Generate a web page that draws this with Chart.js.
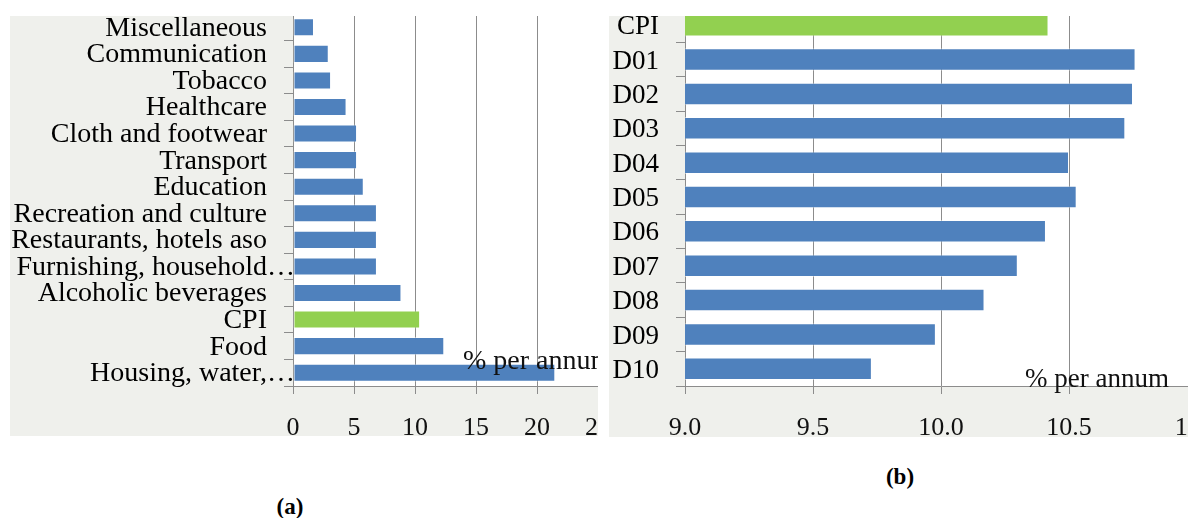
<!DOCTYPE html>
<html>
<head>
<meta charset="utf-8">
<script src="https://cdn.jsdelivr.net/npm/chart.js@4/dist/chart.umd.min.js"></script>
<style>
  html, body { margin: 0; padding: 0; background: #ffffff; }
  body { width: 1188px; height: 518px; position: relative; overflow: hidden; font-family: "Liberation Serif", serif; }
  .panel { position: absolute; overflow: hidden; background: #eff0ec; }
  .panel canvas { position: absolute; }
  .cap { position: absolute; font: bold 23px "Liberation Serif", serif; color: #000; transform: translate(-50%, -50%); }
</style>
</head>
<body>
<div class="panel" id="panelA" style="left:10px; top:16px; width:588px; height:420px;">
  <canvas id="chartA" width="660" height="460" style="left:-10px; top:-16px;"></canvas>
</div>
<div class="panel" id="panelB" style="left:609px; top:16px; width:579px; height:421px;">
  <canvas id="chartB" width="660" height="460" style="left:-9px; top:-16px;"></canvas>
</div>
<div class="cap" style="left:290px; top:507px;">(a)</div>
<div class="cap" style="left:900px; top:477px;">(b)</div>

<script>
// (a) Price growth by consumption group, % per annum
const groupLabels = [
  'Miscellaneous', 'Communication', 'Tobacco', 'Healthcare', 'Cloth and footwear',
  'Transport', 'Education', 'Recreation and culture', 'Restaurants, hotels aso',
  'Furnishing, household\u2026', 'Alcoholic beverages', 'CPI', 'Food', 'Housing, water,\u2026'
];
const groupValues = [1.72, 2.93, 3.12, 4.39, 5.25, 5.25, 5.8, 6.88, 6.88, 6.88, 8.89, 10.42, 12.4, 21.5];
const groupTicks = [0, 5, 10, 15, 20, 25];

// (b) Price growth by income decile, % per annum
const decileLabels = ['CPI', 'D01', 'D02', 'D03', 'D04', 'D05', 'D06', 'D07', 'D08', 'D09', 'D10'];
const decileValues = [10.42, 10.76, 10.75, 10.72, 10.50, 10.53, 10.41, 10.30, 10.17, 9.98, 9.73];
const decileTicks = [9.0, 9.5, 10.0, 10.5, 11.0];

const unitLabel = '% per annum';

const BLUE = '#4f81bd';
const GREEN = '#92d050';
const AXIS = '#8c8c8c';
const FONT = 'Liberation Serif';

const colorsFor = labels => labels.map(l => (l === 'CPI' ? GREEN : BLUE));

// white plot area on the grey panel
const plotBackground = {
  id: 'plotBackground',
  beforeDraw(chart) {
    const { ctx, chartArea: a } = chart;
    ctx.save();
    ctx.fillStyle = '#ffffff';
    ctx.fillRect(a.left, a.top, a.right - a.left, a.bottom - a.top);
    ctx.restore();
  }
};

// unit caption written inside the plot, near the value axis
const unitCaption = {
  id: 'unitCaption',
  afterDraw(chart, args, opts) {
    const { ctx, chartArea: a } = chart;
    ctx.save();
    ctx.font = opts.size + 'px "' + FONT + '"';
    ctx.fillStyle = '#111';
    ctx.textAlign = 'left';
    ctx.textBaseline = 'alphabetic';
    ctx.fillText(opts.text, a.right - opts.fromRight, a.bottom + opts.fromBottom);
    ctx.restore();
  }
};

function makeChart(id, labels, values, ticks, cfg) {
  return new Chart(document.getElementById(id), {
    type: 'bar',
    data: {
      labels: labels,
      datasets: [{
        data: values,
        backgroundColor: colorsFor(labels),
        borderColor: 'rgba(255,255,255,0.45)',
        borderWidth: 1,
        borderSkipped: false,
        categoryPercentage: 1,
        barPercentage: cfg.barPct
      }]
    },
    plugins: [plotBackground, unitCaption],
    options: {
      indexAxis: 'y',
      responsive: false,
      animation: false,
      events: [],
      layout: { padding: { top: cfg.top, right: cfg.right, left: 0, bottom: 0 } },
      plugins: {
        legend: { display: false },
        tooltip: { enabled: false },
        unitCaption: { text: unitLabel, size: cfg.labelSize, fromRight: cfg.capRight, fromBottom: cfg.capBottom }
      },
      scales: {
        x: {
          type: 'linear',
          min: ticks[0],
          max: ticks[ticks.length - 1],
          afterBuildTicks: s => { s.ticks = ticks.map(v => ({ value: v })); },
          afterFit: s => { s.height = 74; s.paddingLeft = 0; s.paddingRight = 0; },
          grid: {
            color: AXIS,
            lineWidth: 1,
            borderDash: [3, 3],
            drawTicks: true,
            tickLength: 8,
            tickBorderDash: [],
            tickColor: AXIS
          },
          border: { display: true, color: AXIS, width: 1 },
          ticks: {
            padding: 19,
            color: '#111',
            font: { family: FONT, size: 26 },
            maxRotation: 0,
            autoSkip: false,
            callback: v => cfg.tickFmt(v)
          }
        },
        y: {
          type: 'category',
          afterFit: s => { s.width = cfg.axisLeft; s.paddingTop = 0; s.paddingBottom = 0; },
          grid: {
            offset: true,
            drawOnChartArea: false,
            drawTicks: true,
            tickLength: 9,
            color: AXIS
          },
          border: { display: true, color: AXIS, width: 1 },
          ticks: {
            padding: cfg.labelPad,
            labelOffset: cfg.labelShift,
            color: '#000',
            autoSkip: false,
            font: { family: FONT, size: cfg.labelSize },
            callback: (v, i) => cfg.labelFmt(labels[i])
          }
        }
      }
    }
  });
}

// (a): truncated labels keep their ellipsis past the common right edge
makeChart('chartA', groupLabels, groupValues, groupTicks, {
  barPct: 0.68, top: 14, right: 62, axisLeft: 293, labelPad: -11, labelSize: 28, labelShift: 1,
  capRight: 135, capBottom: -17,
  tickFmt: v => String(v),
  labelFmt: l => (l.endsWith('\u2026') ? l : l + '\u2003')
});

makeChart('chartB', decileLabels, decileValues, decileTicks, {
  barPct: 0.655, top: 8, right: 63, axisLeft: 85, labelPad: 17, labelSize: 27, labelShift: 2,
  capRight: 172, capBottom: 1,
  tickFmt: v => v.toFixed(1),
  labelFmt: l => l
});
</script>
</body>
</html>
